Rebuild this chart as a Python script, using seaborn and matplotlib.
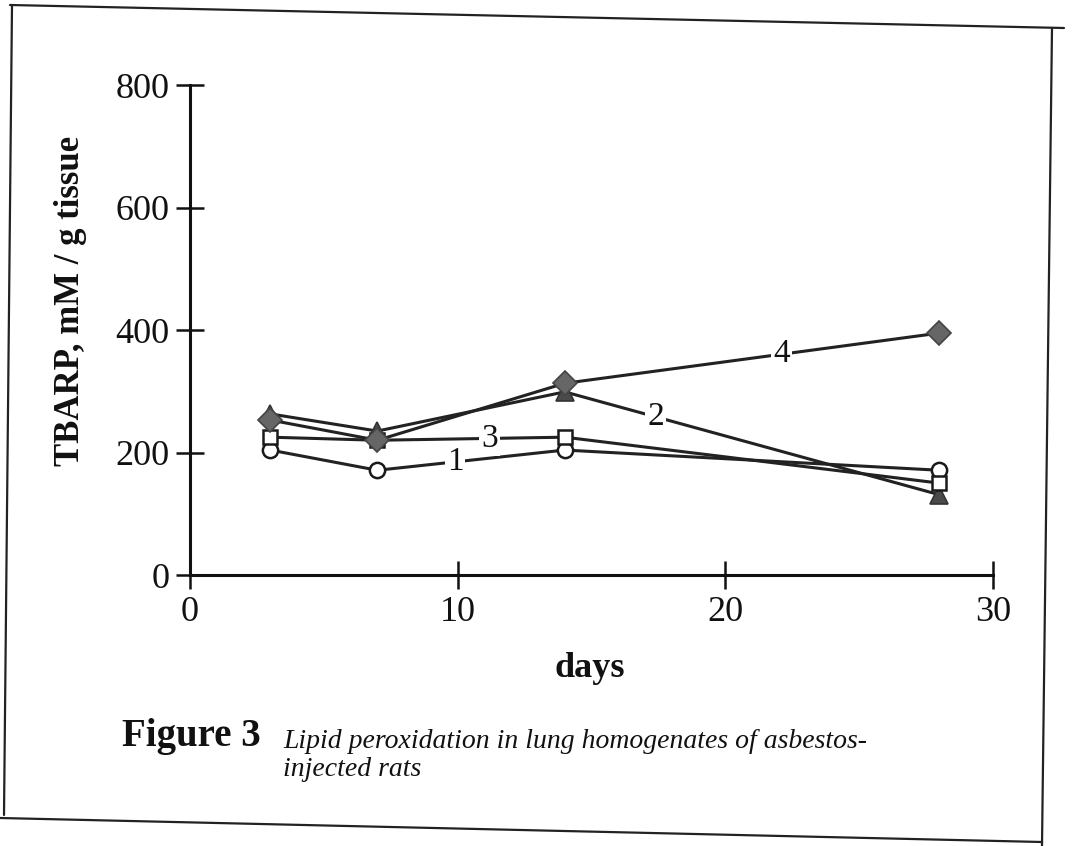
import numpy as np
import pandas as pd
import seaborn as sns
import matplotlib.pyplot as plt
from matplotlib.lines import Line2D

sns.set_theme(style="white")
plt.rcParams["font.family"] = ["Liberation Serif", "DejaVu Serif"]

days = [3, 7, 14, 28]
series_names = ["1", "2", "3", "4"]
tbarp_1 = [204, 171, 204, 171]
tbarp_2 = [263, 235, 299, 131]
tbarp_3 = [225, 220, 225, 150]
tbarp_4 = [253, 220, 313, 395]
label_days = [9.9, 17.4, 11.2, 22.1]

values = [tbarp_1, tbarp_2, tbarp_3, tbarp_4]
df = pd.DataFrame({
    "day": days * 4,
    "tbarp": tbarp_1 + tbarp_2 + tbarp_3 + tbarp_4,
    "series": [s for s in series_names for _ in days],
})

marker_style = {
    "1": dict(marker="o", markerfacecolor="white", markeredgecolor="#1a1a1a", ms=11, mew=1.8),
    "2": dict(marker="^", markerfacecolor="#4a4a4a", markeredgecolor="#333333", ms=13, mew=1.2),
    "3": dict(marker="s", markerfacecolor="white", markeredgecolor="#1a1a1a", ms=10, mew=1.8),
    "4": dict(marker="D", markerfacecolor="#666666", markeredgecolor="#444444", ms=12, mew=1.2),
}

fig = plt.figure(figsize=(10.72, 8.46), dpi=100)
ax = fig.add_axes([190 / 1072, 1 - 575 / 846, (993 - 190) / 1072, (575 - 85) / 846])

for name in series_names:
    sub = df[df["series"] == name]
    sns.lineplot(data=sub, x="day", y="tbarp", ax=ax, color="#222222", lw=2.2,
                 legend=False, zorder=2, **marker_style[name])

# series numbers sitting on the lines
for name, vals, xd in zip(series_names, values, label_days):
    yd = np.interp(xd, days, vals)
    ax.text(xd, yd, name, ha="center", va="center", fontsize=24, color="#111111",
            zorder=3, bbox=dict(facecolor="white", edgecolor="none", pad=1.5))

ax.set_xlim(0, 30)
ax.set_ylim(0, 800)
ax.set_xticks([0, 10, 20, 30])
ax.set_yticks([0, 200, 400, 600, 800])
ax.tick_params(axis="both", bottom=True, left=True, direction="inout", length=20,
               width=1.8, color="#111111", labelsize=26, labelcolor="#111111")
ax.tick_params(axis="y", pad=5)
ax.tick_params(axis="x", pad=5)
ax.set_facecolor("none")
for side in ["top", "right"]:
    ax.spines[side].set_visible(False)
for side in ["left", "bottom"]:
    ax.spines[side].set_color("#111111")
    ax.spines[side].set_linewidth(2.2)

ax.set_xlabel("days", fontsize=26, fontweight="bold", color="#111111")
ax.set_ylabel("TBARP, mM / g tissue", fontsize=25, fontweight="bold", color="#111111")
ax.xaxis.set_label_coords(0.498, -0.158)
ax.yaxis.set_label_coords(-0.128, 0.56)

# caption
fig.text(122 / 1072, 1 - 736 / 846, "Figure 3", fontsize=28, fontweight="bold",
         color="#111111", va="center", ha="left")
fig.text(283 / 1072, 1 - 741 / 846, "Lipid peroxidation in lung homogenates of asbestos-",
         fontsize=20, style="italic", color="#111111", va="center", ha="left")
fig.text(283 / 1072, 1 - 769 / 846, "injected rats",
         fontsize=20, style="italic", color="#111111", va="center", ha="left")

# scanned page frame
frame = [((10, 5), (1064, 28)), ((12, 5), (4, 815)), ((1052, 28), (1042, 846)),
         ((0, 818), (1042, 842))]
for (x0, y0), (x1, y1) in frame:
    fig.add_artist(Line2D([x0 / 1072, x1 / 1072], [1 - y0 / 846, 1 - y1 / 846],
                          transform=fig.transFigure, color="#222222", lw=1.6))

fig.savefig("out.png", dpi=100, facecolor="white")
